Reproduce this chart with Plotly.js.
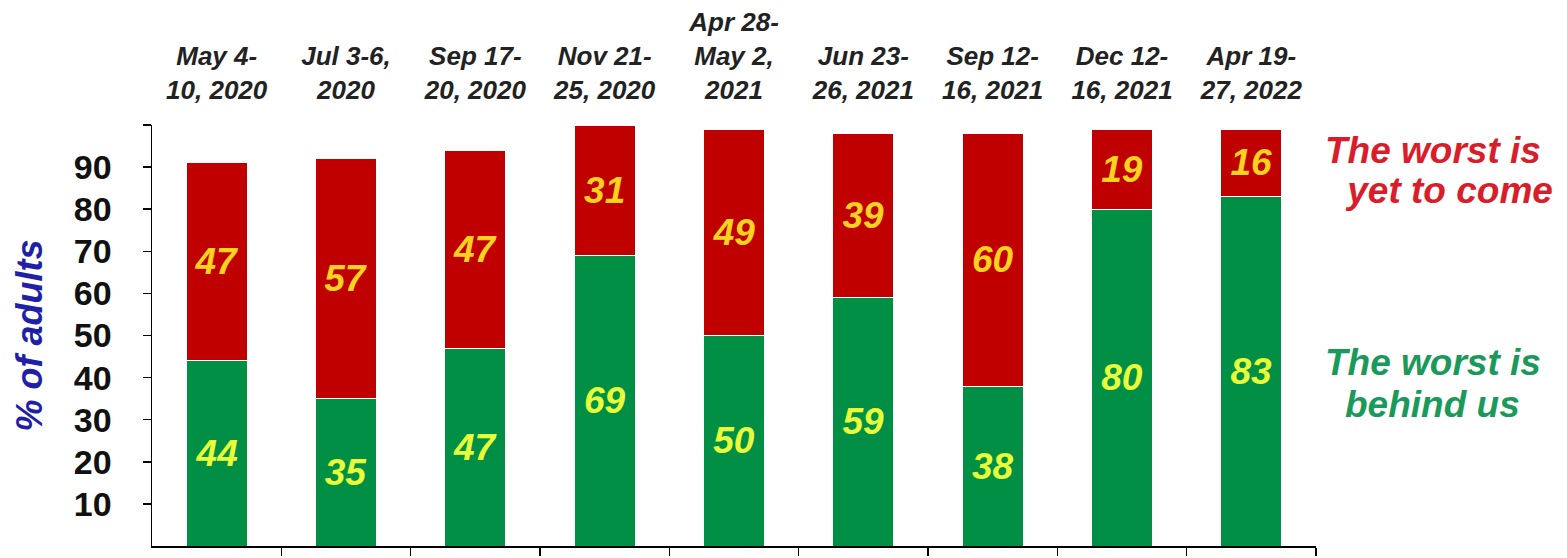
<!DOCTYPE html>
<html><head><meta charset="utf-8">
<script src="https://cdn.plot.ly/plotly-3.0.1.min.js"></script>
<style>html,body{margin:0;padding:0;background:#fff}#chart{width:1567px;height:558px}</style>
</head><body><div id="chart"></div>
<script>
const categories = ["May 4-<br>10, 2020","Jul 3-6,<br>2020","Sep 17-<br>20, 2020","Nov 21-<br>25, 2020","Apr 28-<br>May 2,<br>2021","Jun 23-<br>26, 2021","Sep 12-<br>16, 2021","Dec 12-<br>16, 2021","Apr 19-<br>27, 2022"];
const behindUs = [44,35,47,69,50,59,38,80,83];
const yetToCome = [47,57,47,31,49,39,60,19,16];
const yTickVals = [10,20,30,40,50,60,70,80,90,100];
const yTickText = ["10","20","30","40","50","60","70","80","90",""];
const boundaryTicks = [0.5,1.5,2.5,3.5,4.5,5.5,6.5,7.5,8.5];
const labelRed = ["The worst is", " yet to come"];
const labelGreen = ["The worst is", "behind us"];

const F = "Liberation Sans, Arial, sans-serif";
const idx = categories.map((c,i)=>i);
const barFont = {family:F, size:37, weight:'bold', style:'italic'};

const traces = [
 {type:'bar', x:idx, y:behindUs, name:'The worst is behind us', width:0.47,
  marker:{color:'#008f44', line:{color:'#ffffff', width:1}},
  text:behindUs.map(String), textposition:'inside', insidetextanchor:'middle', textangle:0,
  textfont:Object.assign({color:'#e8ff3a'}, barFont), hoverinfo:'none'},
 {type:'bar', x:idx, y:yetToCome, name:'The worst is yet to come', width:0.47,
  marker:{color:'#c00000', line:{color:'#ffffff', width:1}},
  text:yetToCome.map(String), textposition:'inside', insidetextanchor:'middle', textangle:0,
  textfont:Object.assign({color:'#ffd21f'}, barFont), hoverinfo:'none'},
 {type:'scatter', x:[0], y:[0], xaxis:'x2', mode:'markers', marker:{opacity:0}, hoverinfo:'none', showlegend:false}
];

const annFont = (c)=>({family:F, size:37, color:c, weight:'bold', style:'italic'});
const ann = (t, x, y, c)=>({xref:'paper', yref:'paper', x:x, y:y, text:t, showarrow:false,
   xanchor:'center', yanchor:'middle', font:annFont(c)});

const layout = {
 width:1567, height:558, barmode:'stack', showlegend:false,
 paper_bgcolor:'#ffffff', plot_bgcolor:'#ffffff',
 margin:{l:152, r:251, t:125, b:12},
 xaxis:{side:'top', range:[-0.5,8.5], tickmode:'array', tickvals:idx, ticktext:categories,
   showgrid:false, zeroline:false, showline:false, ticks:'', ticklabelstandoff:20,
   tickfont:{family:F, size:26, color:'#222222', weight:'bold', style:'italic'}},
 xaxis2:{overlaying:'x', side:'bottom', range:[-0.5,8.5], tickmode:'array',
   tickvals:boundaryTicks, showticklabels:false,
   showgrid:false, zeroline:false, showline:true, linecolor:'#000', linewidth:1.5,
   ticks:'outside', ticklen:8, tickcolor:'#000', tickwidth:1.5},
 yaxis:{range:[0,100], tickmode:'array', tickvals:yTickVals, ticktext:yTickText,
   showgrid:false, zeroline:false, showline:true, linecolor:'#000', linewidth:1.5,
   ticks:'outside', ticklen:8, tickcolor:'#000', tickwidth:1.5, ticklabelstandoff:24,
   tickfont:{family:F, size:34, color:'#111111', weight:'bold'},
   title:{text:'% of adults', standoff:20, font:{family:F, size:36, color:'#1f1fa8', weight:'bold', style:'italic'}}},
 annotations:[
  ann(labelRed[0], 1.1005, 0.94, '#d81e2a'),
  ann(labelRed[1], 1.1108, 0.845, '#d81e2a'),
  ann(labelGreen[0], 1.1005, 0.437, '#1a9a5a'),
  ann(labelGreen[1], 1.1005, 0.337, '#1a9a5a')
 ]
};

Plotly.newPlot('chart', traces, layout, {staticPlot:true});
</script></body></html>
